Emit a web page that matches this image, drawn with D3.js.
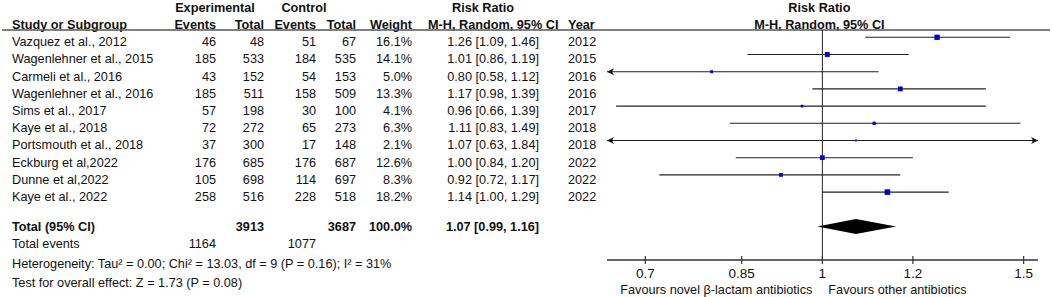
<!DOCTYPE html>
<html>
<head>
<meta charset="utf-8">
<script src="https://cdn.jsdelivr.net/npm/d3@7"></script>
<style>
  html, body { margin: 0; padding: 0; background: #fff; }
  svg text { font-family: "Liberation Sans", Arial, sans-serif; fill: #111; }
</style>
</head>
<body>
<div id="chart"></div>
<script>
const studies = ['Vazquez et al., 2012', 'Wagenlehner et al., 2015', 'Carmeli et al., 2016', 'Wagenlehner et al., 2016',
  'Sims et al., 2017', 'Kaye et al., 2018', 'Portsmouth et al., 2018', 'Eckburg et al,2022', 'Dunne et al,2022', 'Kaye et al., 2022']
const expEvents = [46, 185, 43, 185, 57, 72, 37, 176, 105, 258]
const expTotal = [48, 533, 152, 511, 198, 272, 300, 685, 698, 516]
const ctlEvents = [51, 184, 54, 158, 30, 65, 17, 176, 114, 228]
const ctlTotal = [67, 535, 153, 509, 100, 273, 148, 687, 697, 518]
const weights = [16.1, 14.1, 5.0, 13.3, 4.1, 6.3, 2.1, 12.6, 8.3, 18.2]
const rr = [1.26, 1.01, 0.80, 1.17, 0.96, 1.11, 1.07, 1.00, 0.92, 1.14]
const lower = [1.09, 0.86, 0.58, 0.98, 0.66, 0.83, 0.63, 0.84, 0.72, 1.00]
const upper = [1.46, 1.19, 1.12, 1.39, 1.39, 1.49, 1.84, 1.20, 1.17, 1.29]
const years = [2012, 2015, 2016, 2016, 2017, 2018, 2018, 2022, 2022, 2022]

const totalExpTotal = 3913
const totalCtlTotal = 3687
const totalWeight = 100.0
const pooled = [1.07, 0.99, 1.16] // rr, lower, upper
const totalExpEvents = 1164
const totalCtlEvents = 1077
const heterogeneity = 'Heterogeneity: Tau² = 0.00; Chi² = 13.03, df = 9 (P = 0.16); I² = 31%'
const overallTest = 'Test for overall effect: Z = 1.73 (P = 0.08)'
const ticks = [0.7, 0.85, 1, 1.2, 1.5]
const favours = ['Favours novel β-lactam antibiotics', 'Favours other antibiotics']

const width = 1052
const height = 297
const fs = 12.7

const svg = d3.select('#chart')
  .append('svg')
  .attr('width', width)
  .attr('height', height)

const x = d3.scaleLog().domain([0.648, 1.544]).range([607, 1038])
const y = d3.scaleLinear().domain([0, 1]).range([37.3, 54.5])
const size = d3.scaleSqrt().domain([0, 18.2]).range([0, 5.6])
const fmt = d3.format('.2f')

// column anchors
const col = { study: 12, expEv: 216, expTot: 264, ctlEv: 316, ctlTot: 356, weight: 412, rr: 539, year: 568 }
const textOff = 8.9

const text = (g, s, xx, yy, anchor = 'start', bold = false) =>
  g.append('text')
    .attr('x', xx)
    .attr('y', yy)
    .attr('text-anchor', anchor)
    .attr('font-size', fs)
    .attr('font-weight', bold ? 'bold' : 'normal')
    .text(s)

// header
const head = svg.append('g')
text(head, 'Experimental', 215, 11.5, 'middle', true)
text(head, 'Control', 304, 11.5, 'middle', true)
text(head, 'Risk Ratio', 483, 11.5, 'middle', true)
text(head, 'Risk Ratio', x(1) - 3, 11.5, 'middle', true)
text(head, 'Study or Subgroup', col.study, 28.5, 'start', true)
text(head, 'Events', col.expEv, 28.5, 'end', true)
text(head, 'Total', col.expTot, 28.5, 'end', true)
text(head, 'Events', col.ctlEv, 28.5, 'end', true)
text(head, 'Total', col.ctlTot, 28.5, 'end', true)
text(head, 'Weight', col.weight, 28.5, 'end', true)
text(head, 'M-H, Random, 95% CI', 428, 28.5, 'start', true)
text(head, 'Year', col.year, 28.5, 'start', true)
text(head, 'M-H, Random, 95% CI', x(1) - 3, 28.5, 'middle', true)

svg.append('line')
  .attr('x1', 2).attr('x2', 1050)
  .attr('y1', 30).attr('y2', 30)
  .attr('stroke', '#555').attr('stroke-width', 1.5)

// study rows
const rows = svg.append('g')
studies.forEach((s, i) => {
  const ty = y(i) + textOff
  text(rows, s, col.study, ty)
  text(rows, expEvents[i], col.expEv, ty, 'end')
  text(rows, expTotal[i], col.expTot, ty, 'end')
  text(rows, ctlEvents[i], col.ctlEv, ty, 'end')
  text(rows, ctlTotal[i], col.ctlTot, ty, 'end')
  text(rows, weights[i].toFixed(1) + '%', col.weight, ty, 'end')
  text(rows, `${fmt(rr[i])} [${fmt(lower[i])}, ${fmt(upper[i])}]`, col.rr, ty, 'end')
  text(rows, years[i], col.year, ty)
})

// total rows
const tIdx = 11
const tY = y(tIdx) + 4.5
text(rows, 'Total (95% CI)', col.study, tY, 'start', true)
text(rows, totalExpTotal, col.expTot, tY, 'end', true)
text(rows, totalCtlTotal, col.ctlTot, tY, 'end', true)
text(rows, totalWeight.toFixed(1) + '%', col.weight, tY, 'end', true)
text(rows, `${fmt(pooled[0])} [${fmt(pooled[1])}, ${fmt(pooled[2])}]`, col.rr, tY, 'end', true)
text(rows, 'Total events', col.study, 248)
text(rows, totalExpEvents, col.expEv, 248, 'end')
text(rows, totalCtlEvents, col.ctlEv, 248, 'end')
text(rows, heterogeneity, col.study, 267.5)
text(rows, overallTest, col.study, 286.5)

// plot
const plot = svg.append('g')
plot.append('line')
  .attr('x1', x(1)).attr('x2', x(1))
  .attr('y1', 30).attr('y2', 260)
  .attr('stroke', '#222').attr('stroke-width', 1)

const [dLo, dHi] = x.domain()
studies.forEach((s, i) => {
  const yy = y(i)
  const x1 = x(Math.max(lower[i], dLo))
  const x2 = x(Math.min(upper[i], dHi))
  plot.append('line')
    .attr('x1', x1).attr('x2', x2)
    .attr('y1', yy).attr('y2', yy)
    .attr('stroke', '#222').attr('stroke-width', 1.1)
  if (lower[i] < dLo) {
    plot.append('path')
      .attr('d', `M${x1},${yy}l7,-3.5l-2,3.5l2,3.5z`)
      .attr('fill', '#111')
  }
  if (upper[i] > dHi) {
    plot.append('path')
      .attr('d', `M${x2},${yy}l-7,-3.5l2,3.5l-2,3.5z`)
      .attr('fill', '#111')
  }
  const sz = size(weights[i])
  plot.append('rect')
    .attr('x', x(rr[i]) - sz / 2)
    .attr('y', yy - sz / 2)
    .attr('width', sz)
    .attr('height', sz)
    .attr('fill', '#0000d0')
})

// pooled diamond
const dy = y(tIdx)
plot.append('path')
  .attr('d', `M${x(pooled[1])},${dy}L${x(pooled[0])},${dy - 7.5}L${x(pooled[2])},${dy}L${x(pooled[0])},${dy + 7.5}Z`)
  .attr('fill', '#000')

// axis
const axis = plot.append('g').attr('transform', 'translate(0,260)')
axis.append('line')
  .attr('x1', x.range()[0]).attr('x2', x.range()[1])
  .attr('stroke', '#333').attr('stroke-width', 1.5)
axis.selectAll('.tick')
  .data(ticks)
  .enter()
  .append('line')
  .attr('class', 'tick')
  .attr('x1', (d) => x(d)).attr('x2', (d) => x(d))
  .attr('y1', -4).attr('y2', 4)
  .attr('stroke', '#333').attr('stroke-width', 1.2)
axis.selectAll('.lbl')
  .data(ticks)
  .enter()
  .append('text')
  .attr('class', 'lbl')
  .attr('x', (d) => x(d))
  .attr('y', 18)
  .attr('text-anchor', 'middle')
  .attr('font-size', 13.5)
  .text((d) => d)

text(plot, favours[0], x(1) - 10, 294, 'end')
text(plot, favours[1], x(1) + 6, 294, 'start')
</script>
</body>
</html>
